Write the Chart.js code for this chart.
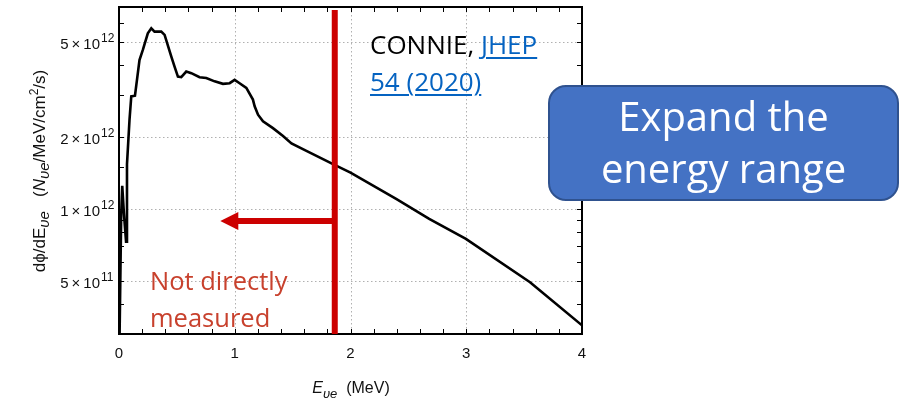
<!DOCTYPE html>
<html>
<head>
<meta charset="utf-8">
<script src="https://cdn.jsdelivr.net/npm/chart.js@4.4.1/dist/chart.umd.min.js"></script>
<style>
  body { margin: 0; background: #fff; }
  #wrap { position: relative; width: 902px; height: 403px; overflow: hidden; }
  #flux_chart { position: absolute; left: 0; top: 0; }
  .note { position: absolute; font-family: "Open Sans", sans-serif; white-space: nowrap; }
  .axis_title { position: absolute; font-family: "Liberation Sans", Arial, sans-serif; font-weight: normal; color: #111; white-space: nowrap; }
  #connie { left: 370px; top: 26px; font-size: 26px; line-height: 37px; color: #000; }
  #connie a { color: #0563C1; text-decoration: underline; text-decoration-thickness: 2px; text-underline-offset: 3px; }
  #not_measured { left: 150px; top: 262px; font-size: 25.5px; line-height: 37px; color: #C8412D; }
  #expand_box {
    left: 548px; top: 85px; width: 351px; height: 116px;
    background: #4472C4; border: 2px solid #2F528F; border-radius: 18px;
    color: #fff; font-size: 40px; line-height: 52px; text-align: center;
    box-sizing: border-box; padding-top: 3px;
  }
  #x_title { left: 351px; top: 390px; font-size: 16px; transform: translate(-50%, -50%); }
  #x_title sub { font-size: 13px; }
  #y_title { left: 0; top: 0; width: 240px; height: 24px; line-height: 24px; text-align: center;
    font-size: 17px; transform: translate(-86px, 159px) rotate(-90deg); transform-origin: 120px 12px; }
  #y_title sub { font-size: 15px; }
  #y_title sup { font-size: 12px; }
</style>
</head>
<body>
<div id="wrap">
  <canvas id="flux_chart" width="902" height="403"></canvas>
  <div class="note" id="connie">CONNIE, <a>JHEP</a><br><a>54 (2020)</a></div>
  <div class="note" id="not_measured">Not directly<br>measured</div>
  <div class="note" id="expand_box">Expand the<br>energy range</div>
  <div class="axis_title" id="x_title"><i>E<sub>υe</sub></i>&nbsp; (MeV)</div>
  <div class="axis_title" id="y_title">dϕ/dE<i><sub>υe</sub></i>&nbsp;&nbsp; (<i>N<sub>υe</sub></i>/MeV/cm<sup>2</sup>/s)</div>
</div>
<script>
//Spectrum (MeV, flux)
var energy = [0.003, 0.019, 0.028, 0.043, 0.061, 0.069, 0.091, 0.106, 0.138, 0.177,
  0.206, 0.249, 0.279, 0.307, 0.365, 0.394, 0.452, 0.480, 0.509, 0.538,
  0.581, 0.625, 0.696, 0.754, 0.826, 0.898, 0.956, 0.999, 1.042, 1.100,
  1.157, 1.172, 1.201, 1.244, 1.330, 1.417, 1.490, 1.619, 1.849, 2.000,
  2.398, 2.680, 2.997, 3.551, 4.000];
var flux = [2.5e11, 9.5e11, 1.25e12, 9.5e11, 7.3e11, 1.54e12, 2.37e12, 2.96e12, 2.98e12, 4.2e12,
  4.63e12, 5.43e12, 5.70e12, 5.52e12, 5.52e12, 5.35e12, 4.34e12, 3.94e12, 3.58e12, 3.56e12,
  3.76e12, 3.70e12, 3.56e12, 3.53e12, 3.42e12, 3.34e12, 3.36e12, 3.47e12, 3.36e12, 3.21e12,
  2.87e12, 2.69e12, 2.48e12, 2.33e12, 2.18e12, 2.02e12, 1.88e12, 1.75e12, 1.54e12, 1.42e12,
  1.10e12, 9.1e11, 7.5e11, 4.94e11, 3.26e11];

//Axis ticks
var x_major = [0, 1, 2, 3, 4];
var x_minor = [0.2, 0.4, 0.6, 0.8, 1.2, 1.4, 1.6, 1.8, 2.2, 2.4, 2.6, 2.8, 3.2, 3.4, 3.6, 3.8];
var y_major = [5e11, 1e12, 2e12, 5e12];
var y_major_mantissa = ["5\u2009×\u200910", "1\u2009×\u200910", "2\u2009×\u200910", "5\u2009×\u200910"];
var y_major_exponent = ["11", "12", "12", "12"];
var y_minor = [3e11, 4e11, 6e11, 7e11, 8e11, 9e11, 1.5e12, 3e12, 4e12, 6e12, 7e12];

//Annotations
var cutoff_energy = 1.864;
var arrow_tip_energy = 0.875;
var arrow_flux = 8.9e11;

var label_gap = 19;

var points = [];
for (var i = 0; i < energy.length; i++) {
  points.push({x: energy[i], y: flux[i]});
}

var frame_plugin = {
  id: "frame",
  beforeDatasetsDraw: function(chart) {
    var ctx = chart.ctx, a = chart.chartArea;
    var xs = chart.scales.x, ys = chart.scales.y;
    ctx.save();
    ctx.strokeStyle = "#b0b0b0";
    ctx.lineWidth = 1;
    ctx.setLineDash([1.5, 2.5]);
    ctx.beginPath();
    [1, 2, 3].forEach(function(v) {
      var px = Math.round(xs.getPixelForValue(v)) + 0.5;
      ctx.moveTo(px, a.top); ctx.lineTo(px, a.bottom);
    });
    y_major.forEach(function(v) {
      var py = Math.round(ys.getPixelForValue(v)) + 0.5;
      ctx.moveTo(a.left, py); ctx.lineTo(a.right, py);
    });
    ctx.stroke();
    ctx.restore();
  },
  afterDatasetsDraw: function(chart) {
    var ctx = chart.ctx, a = chart.chartArea;
    var xs = chart.scales.x, ys = chart.scales.y;
    ctx.save();
    //ticks, pointing inward on all four sides
    ctx.strokeStyle = "#000";
    ctx.lineWidth = 1;
    ctx.beginPath();
    x_major.concat(x_minor).forEach(function(v) {
      var px = Math.round(xs.getPixelForValue(v)) + 0.5;
      ctx.moveTo(px, a.bottom); ctx.lineTo(px, a.bottom - 5);
      ctx.moveTo(px, a.top); ctx.lineTo(px, a.top + 5);
    });
    y_major.concat(y_minor).forEach(function(v) {
      var py = Math.round(ys.getPixelForValue(v)) + 0.5;
      ctx.moveTo(a.left, py); ctx.lineTo(a.left + 5, py);
      ctx.moveTo(a.right, py); ctx.lineTo(a.right - 5, py);
    });
    ctx.stroke();
    ctx.lineWidth = 2;
    ctx.strokeRect(a.left, a.top, a.right - a.left, a.bottom - a.top);

    //exponents of the y tick labels
    ctx.fillStyle = "#111";
    ctx.font = "12px 'Liberation Sans'";
    ctx.textAlign = "left";
    ctx.textBaseline = "alphabetic";
    y_major.forEach(function(v, k) {
      var py = ys.getPixelForValue(v);
      ctx.fillText(y_major_exponent[k], a.left - label_gap + 1, py);
    });

    //red cutoff line and arrow
    var cx = xs.getPixelForValue(cutoff_energy);
    var ay = ys.getPixelForValue(arrow_flux);
    var tip = xs.getPixelForValue(arrow_tip_energy);
    ctx.strokeStyle = "#CC0000";
    ctx.fillStyle = "#CC0000";
    ctx.lineWidth = 6;
    ctx.beginPath();
    ctx.moveTo(cx, a.top + 3); ctx.lineTo(cx, a.bottom);
    ctx.stroke();
    ctx.beginPath();
    ctx.moveTo(cx, ay); ctx.lineTo(tip + 14, ay);
    ctx.stroke();
    ctx.beginPath();
    ctx.moveTo(tip, ay);
    ctx.lineTo(tip + 18, ay - 9);
    ctx.lineTo(tip + 18, ay + 9);
    ctx.closePath();
    ctx.fill();
    ctx.restore();
  }
};

var ctx = document.getElementById("flux_chart").getContext("2d");

var chart = new Chart(ctx, {
  type: "line",
  data: {
    datasets: [{
      data: points,
      borderColor: "#000",
      borderWidth: 2.6,
      pointRadius: 0,
      tension: 0,
      fill: false
    }]
  },
  options: {
    responsive: false,
    animation: false,
    layout: {
      padding: {left: 0, top: 7, right: 320, bottom: 0}
    },
    plugins: {
      legend: {display: false},
      tooltip: {enabled: false}
    },
    scales: {
      x: {
        type: "linear",
        min: 0,
        max: 4,
        grid: {display: false, drawTicks: false},
        border: {display: false},
        ticks: {
          stepSize: 1,
          padding: 11,
          color: "#111",
          font: {family: "Liberation Sans", size: 15}
        },
        afterFit: function(s) {
          s.height = 69;
          s.paddingLeft = 0;
          s.paddingRight = 0;
        }
      },
      y: {
        type: "logarithmic",
        min: 3e11,
        max: 7e12,
        grid: {display: false, drawTicks: false},
        border: {display: false},
        afterBuildTicks: function(s) {
          s.ticks = y_major.map(function(v) { return {value: v}; });
        },
        ticks: {
          autoSkip: false,
          padding: label_gap,
          labelOffset: 3,
          color: "#111",
          font: {family: "Liberation Sans", size: 15},
          callback: function(value) {
            var k = y_major.indexOf(value);
            return k >= 0 ? y_major_mantissa[k] : "";
          }
        },
        afterFit: function(s) {
          s.width = 119;
          s.paddingTop = 0;
          s.paddingBottom = 0;
        }
      }
    }
  },
  plugins: [frame_plugin]
});
</script>
</body>
</html>
